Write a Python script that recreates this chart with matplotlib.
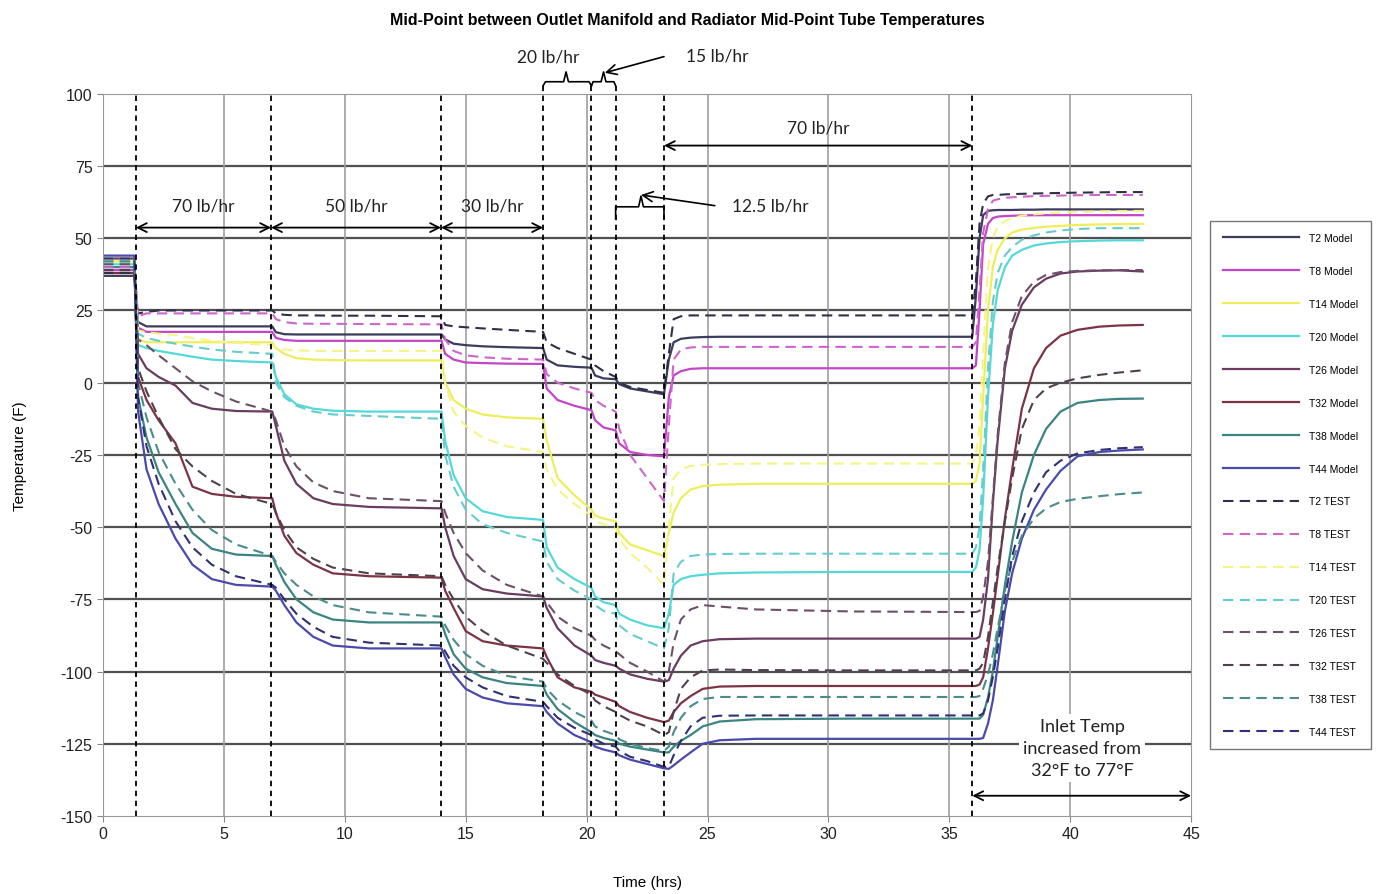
import matplotlib
matplotlib.use("Agg")
import matplotlib.pyplot as plt

plt.rcParams['axes.unicode_minus'] = False

# time grid (hrs) shared by all series
time = [0, 1.3,
        1.45, 1.8, 2.3, 3.0, 3.7, 4.5, 5.5, 7.0,
        7.15, 7.5, 8.0, 8.7, 9.5, 11.0, 14.0,
        14.15, 14.5, 15.0, 15.7, 16.7, 18.2,
        18.35, 18.8, 19.5, 20.2,
        20.35, 20.7, 21.2,
        21.35, 21.8, 22.5, 23.2,
        23.4, 23.6, 23.9, 24.3, 24.8, 25.5, 27.0, 31.0, 35.95,
        36.1, 36.25, 36.4, 36.6, 36.8, 37.0, 37.3, 37.6, 38.0, 38.5, 39.0, 39.6, 40.3, 41.2, 42.0, 43.0]

t2_model = [37, 37,
            21, 19.5, 19.5, 19.5, 19.5, 19.5, 19.5, 19.5,
            17.5, 16.8, 16.7, 16.7, 16.7, 16.7, 16.7,
            15, 13.5, 13, 12.6, 12.3, 12,
            8, 6, 5.5, 5.2,
            2.5, 1.5, 1.2,
            -0.5, -2, -3, -4,
            8, 14, 15.2, 15.6, 15.8, 15.9, 15.9, 15.9, 15.9,
            30, 50, 58, 59.5, 59.7, 59.8, 59.8, 59.8, 59.9, 59.9, 60, 60, 60, 60, 60, 60]
t8_model = [39, 39,
            19, 17.6, 17.6, 17.6, 17.6, 17.6, 17.6, 17.6,
            15.5, 14.8, 14.5, 14.5, 14.5, 14.5, 14.5,
            10, 8, 7, 6.8, 6.6, 6.5,
            -2, -6, -8, -9.5,
            -13, -15.5, -16.5,
            -21, -24, -25, -25.5,
            -5, 2.5, 4, 4.8, 5, 5, 5, 5, 5,
            6, 25, 48, 55, 57, 57.5, 57.7, 57.8, 57.9, 58, 58, 58, 58, 58, 58, 58]
t14_model = [42, 42,
             15, 14, 14, 14, 14, 14, 14, 14,
             12, 10, 8.5, 8, 7.8, 7.7, 7.7,
             0, -6, -9, -11, -12, -12.5,
             -20, -33, -39, -44,
             -46, -47, -48,
             -52, -56, -58, -60,
             -52, -45, -40, -37, -35.8, -35.3, -35, -35, -35,
             -34, -28, -5, 25, 40, 46, 50, 52, 53, 53.6, 54, 54.3, 54.6, 54.8, 54.9, 55]
t20_model = [41, 41,
             13, 12, 11, 10, 9, 8, 7.5, 7,
             2, -4, -7.5, -9, -9.7, -10, -10,
             -20, -32, -40, -44.5, -46.5, -47.5,
             -57, -64, -68, -71,
             -74, -76, -77,
             -80, -82, -84, -85,
             -80, -70, -68, -67, -66.5, -66, -65.7, -65.5, -65.5,
             -64, -58, -40, -5, 20, 32, 40, 44, 46, 47.5, 48.2, 48.7, 49, 49.2, 49.3, 49.3]
t26_model = [43, 43,
             10, 5, 2, -1, -7, -9, -9.8, -10,
             -15, -27, -35, -40, -42, -43, -43.5,
             -50, -60, -68, -71.5, -73, -74,
             -78, -85, -91, -94.5,
             -96, -97, -98,
             -99, -101, -102.5, -103.5,
             -103, -99, -94.5, -91, -89.5, -88.8, -88.6, -88.6, -88.6,
             -88.6, -88, -82, -68, -42, -20, 5, 18, 27, 33, 36, 37.8, 38.5, 38.8, 38.9, 38.5]
t32_model = [38, 38,
             2, -6, -13, -21, -36, -38.5, -39.5, -40,
             -45, -53, -59, -63, -66, -67, -67.5,
             -72, -78, -86, -89.5, -91, -92,
             -95, -102, -105.5, -107,
             -108, -109, -110.5,
             -112, -114, -116, -117.5,
             -117, -114, -111, -108.5, -106, -105.2, -105, -105, -105,
             -105, -104.5, -102, -92, -80, -67, -47, -30, -9, 5, 12, 16.3, 18.3, 19.4, 19.8, 20]
t38_model = [40, 40,
             -5, -19, -31, -42, -52, -57.5, -59.5, -60,
             -63, -69, -75, -79.5, -82, -83, -83,
             -87, -94, -99, -102, -104, -105,
             -108, -113, -117.5, -121,
             -122, -123, -124,
             -125, -126, -127, -128,
             -128, -126, -124, -122, -119, -117.3, -116.5, -116.3, -116.3,
             -116.3, -116.3, -115, -109, -100, -88, -70, -55, -38, -25, -16, -10, -7, -6, -5.6, -5.5]
t44_model = [44, 44,
             -10, -30, -42, -54, -63, -68, -70, -70.6,
             -72, -77, -83, -88, -91, -92, -92,
             -95, -101, -106, -109, -111, -112,
             -114, -118, -122, -124.5,
             -126, -127, -128,
             -129, -130.5, -132, -133.5,
             -133.7, -132.5, -130.5, -128, -125, -123.8, -123.3, -123.3, -123.3,
             -123.3, -123.3, -123, -118, -110, -98, -79, -66, -54, -44, -37, -30.5, -25.5, -24, -23.5, -23.1]

t2_test = [38, 38,
           24, 24.5, 25, 25, 25, 25, 25, 25,
           24, 23.5, 23.3, 23.3, 23.2, 23.2, 23,
           20, 19.5, 19.2, 18.8, 18.3, 17.6,
           14, 12, 10, 8,
           6, 4, 2,
           0, -1.5, -2.5, -3.5,
           10, 22, 23, 23.3, 23.3, 23.3, 23.3, 23.3, 23.3,
           35, 55, 62, 64.5, 65, 65, 65.2, 65.3, 65.4, 65.5, 65.6, 65.7, 65.8, 65.9, 66, 66]
t8_test = [40, 40,
           23, 24, 24, 24, 24, 24, 24, 24,
           22, 21, 20.5, 20.4, 20.4, 20.3, 20.2,
           15, 11, 9.5, 8.8, 8.3, 8,
           3, 0, -2, -3.5,
           -6, -8, -10,
           -16, -25, -33, -41,
           -15, 8, 11.5, 12.2, 12.4, 12.4, 12.4, 12.4, 12.4,
           14, 32, 52, 60, 63, 63.5, 64, 64.2, 64.4, 64.6, 64.7, 64.8, 64.9, 65, 65, 65]
t14_test = [43, 43,
            18, 17.5, 17, 16.5, 15.5, 14.5, 13.8, 13,
            12, 11.5, 11.2, 11, 11, 11, 11,
            0, -10, -15, -19, -22, -24,
            -30, -37, -42, -46,
            -48, -49, -50,
            -54, -59, -64, -70,
            -50, -33, -30, -28.8, -28.4, -28.2, -28, -28, -28,
            -25, -15, 10, 40, 50, 54, 56, 57, 57.8, 58.3, 58.6, 58.9, 59.1, 59.3, 59.4, 59.5]
t20_test = [42, 42,
            17, 15.5, 14.5, 13.5, 12.5, 11.5, 10.7, 10,
            0, -5, -8, -10, -11, -11.5, -12.5,
            -25, -36, -44, -49, -52, -55,
            -62, -68, -72, -75,
            -77, -79, -80,
            -84, -87, -89.5, -92,
            -85, -66, -62, -60, -59.5, -59.3, -59.2, -59.2, -59.2,
            -57, -50, -30, 5, 28, 38, 44, 47, 49.5, 51, 52, 52.7, 53.2, 53.5, 53.5, 53.5]
t26_test = [41, 41,
            15, 13, 9.5, 5, 0.5, -3, -6.5, -10,
            -13, -22, -29, -34.5, -37.5, -40, -41,
            -45, -52, -59, -65, -70, -74,
            -76, -81, -85, -87.6,
            -89, -91, -93,
            -94, -97, -100, -103.5,
            -100, -90, -82, -78.5, -77, -77.5, -78.5, -79.2, -79.4,
            -79.4, -79, -74, -62, -40, -18, 7, 21, 30, 35, 37.3, 38.3, 38.7, 38.9, 39, 39]
t32_test = [39, 39,
            5, -3, -12, -23, -29, -34, -38.5, -42,
            -45, -51, -57, -61, -64, -66, -67,
            -70, -75, -81, -86, -91, -95.6,
            -97, -101, -105, -108,
            -110, -112, -114,
            -115, -117, -119, -122,
            -121, -114, -106, -102, -99.6, -99.3, -99.5, -99.6, -99.6,
            -99.6, -99, -97, -88, -76, -64, -48, -33, -16, -6, -2, 0, 1.5, 2.7, 3.5, 4.3]
t38_test = [42, 42,
            0, -12, -24, -35, -44, -51, -56, -60,
            -62, -66, -70, -74, -77, -79.5, -81,
            -84, -89, -94, -98, -101.5, -103.5,
            -106, -110, -114, -117,
            -119, -120.5, -122,
            -123.5, -125, -126.5, -127.5,
            -126, -121, -116, -112, -109.5, -108.8, -108.8, -108.8, -108.8,
            -108.8, -108.5, -106, -101, -94, -85, -72, -62, -53, -47, -43.5, -41.3, -40.2, -39.3, -38.6, -38]
t44_test = [43, 43,
            -5, -22, -35, -48, -57, -63, -67, -70,
            -71, -75, -80, -84.5, -88, -90, -91,
            -93, -98, -102, -105.5, -108.5, -110.5,
            -112, -116, -119.5, -122,
            -123.5, -125, -126,
            -127.5, -129.5, -131, -133,
            -133, -129, -124, -119, -116, -115.3, -115.2, -115.2, -115.2,
            -115.2, -115.2, -114.5, -110, -102, -92, -75, -60, -48, -38, -31, -27, -24.5, -23.3, -22.7, -22.3]

model_series = [t2_model, t8_model, t14_model, t20_model, t26_model, t32_model, t38_model, t44_model]
test_series = [t2_test, t8_test, t14_test, t20_test, t26_test, t32_test, t38_test, t44_test]
model_labels = ['T2 Model', 'T8 Model', 'T14 Model', 'T20 Model', 'T26 Model', 'T32 Model', 'T38 Model', 'T44 Model']
test_labels = ['T2 TEST', 'T8 TEST', 'T14 TEST', 'T20 TEST', 'T26 TEST', 'T32 TEST', 'T38 TEST', 'T44 TEST']
model_colors = ['#3c3c5c', '#c545c8', '#eeee5a', '#55d8d8', '#6a3c60', '#7c3444', '#3a8482', '#4a4aaa']
test_colors = ['#303048', '#cc66cc', '#f4f488', '#66cccc', '#6c5068', '#50404e', '#4a8c8c', '#303074']

# flow-rate change times (hrs)
changes = [1.36, 6.95, 13.98, 18.2, 20.2, 21.2, 23.2, 35.95]

fig = plt.figure(figsize=(13.77, 8.95), dpi=100)
ax = fig.add_axes([0.0748, 0.0872, 0.7902, 0.8068])

for y, lab, c in zip(model_series, model_labels, model_colors):
    ax.plot(time, y, color=c, lw=1.6, label=lab)
for y, lab, c in zip(test_series, test_labels, test_colors):
    ax.plot(time, y, color=c, lw=1.5, ls=(0, (5, 3)), label=lab)

ax.set_xlim(0, 45)
ax.set_ylim(-150, 100)
ax.set_xticks(range(0, 46, 5))
ax.set_yticks(range(-150, 101, 25))
ax.tick_params(labelsize=11.5, length=4, color='#888888', labelcolor='#222222')
for lbl in ax.get_xticklabels() + ax.get_yticklabels():
    lbl.set_family('Liberation Sans')
for sp in ax.spines.values():
    sp.set_color('#999999')

for v in range(-125, 100, 25):
    ax.axhline(v, color='#505050', lw=1.6, zorder=0)
for v in range(5, 45, 5):
    ax.axvline(v, color='#a0a0a0', lw=1.2, zorder=0)

# flow change markers
for c in changes:
    top = 102.8 if c in (18.2, 20.2, 21.2) else 100
    ax.plot([c, c], [-150, top], color='black', lw=1.3, ls=(0, (3, 2.5)), clip_on=False, zorder=5)

fig.text(0.499, 0.977, 'Mid-Point between Outlet Manifold and Radiator Mid-Point Tube Temperatures',
         ha='center', va='center', fontsize=11.5, fontweight='bold', family='Liberation Sans')
fig.text(0.47, 0.013, 'Time (hrs)', ha='center', va='center', fontsize=11, family='Liberation Sans')
ax.set_ylabel('Temperature (F)', fontsize=11, family='Liberation Sans', labelpad=24)

afont = dict(fontsize=12.5, family='Lato', color='#222222')
arr = dict(arrowstyle='<->', color='black', lw=1.3, shrinkA=0, shrinkB=0, mutation_scale=16)

def span(x0, x1, yv, text, ty):
    ax.annotate('', xy=(x0, yv), xytext=(x1, yv), arrowprops=arr, annotation_clip=False)
    if text:
        ax.text((x0 + x1) / 2, ty, text, ha='center', va='center', **afont)

span(1.36, 6.95, 53.7, '70 lb/hr', 61.3)
span(6.95, 13.98, 53.7, '50 lb/hr', 61.3)
span(13.98, 18.2, 53.7, '30 lb/hr', 61.3)
span(23.2, 35.95, 82.1, '70 lb/hr', 88.3)
span(35.95, 45, -143, '', 0)

# braces for the short steps
ax.plot([18.2, 18.3, 19.05, 19.15, 19.25, 20.1, 20.2],
        [102.8, 104.2, 104.2, 107.6, 104.2, 104.2, 102.8], color='black', lw=1.2, clip_on=False)
ax.plot([20.2, 20.27, 20.6, 20.7, 20.8, 21.13, 21.2],
        [102.8, 104.2, 104.2, 107.6, 104.2, 104.2, 102.8], color='black', lw=1.2, clip_on=False)
ax.plot([21.2, 21.2, 22.15, 22.25, 22.35, 23.2, 23.2],
        [56.8, 60.9, 60.9, 64.6, 60.9, 60.9, 56.8], color='black', lw=1.2, clip_on=False)

ax.text(18.4, 112.9, '20 lb/hr', ha='center', va='center', **afont)
ax.text(24.1, 113.2, '15 lb/hr', ha='left', va='center', **afont)
ax.annotate('', xy=(20.75, 107.3), xytext=(23.2, 112.9),
            arrowprops=dict(arrowstyle='->', color='black', lw=1.2, mutation_scale=18,
                            shrinkA=0, shrinkB=0), annotation_clip=False)
ax.text(26.0, 61.3, '12.5 lb/hr', ha='left', va='center', **afont)
ax.annotate('', xy=(22.25, 65.0), xytext=(25.3, 61.3),
            arrowprops=dict(arrowstyle='->', color='black', lw=1.2, mutation_scale=18,
                            shrinkA=0, shrinkB=0))

ax.text(40.5, -126.5, 'Inlet Temp\nincreased from\n32\u00b0F to 77\u00b0F', ha='center', va='center',
        linespacing=1.45, bbox=dict(facecolor='white', edgecolor='none', pad=3), zorder=6,
        fontsize=13, family='Lato', color='#222222')

leg = ax.legend(loc='upper left', bbox_to_anchor=(1.0175, 0.8245),
                handlelength=7.3, handletextpad=1.0, labelspacing=2.2, borderpad=1.2,
                borderaxespad=0, fancybox=False, edgecolor='#777777', framealpha=1,
                prop={'family': 'Liberation Sans', 'size': 7.5})
leg.get_frame().set_linewidth(1.0)

fig.savefig('out.png', dpi=100)
